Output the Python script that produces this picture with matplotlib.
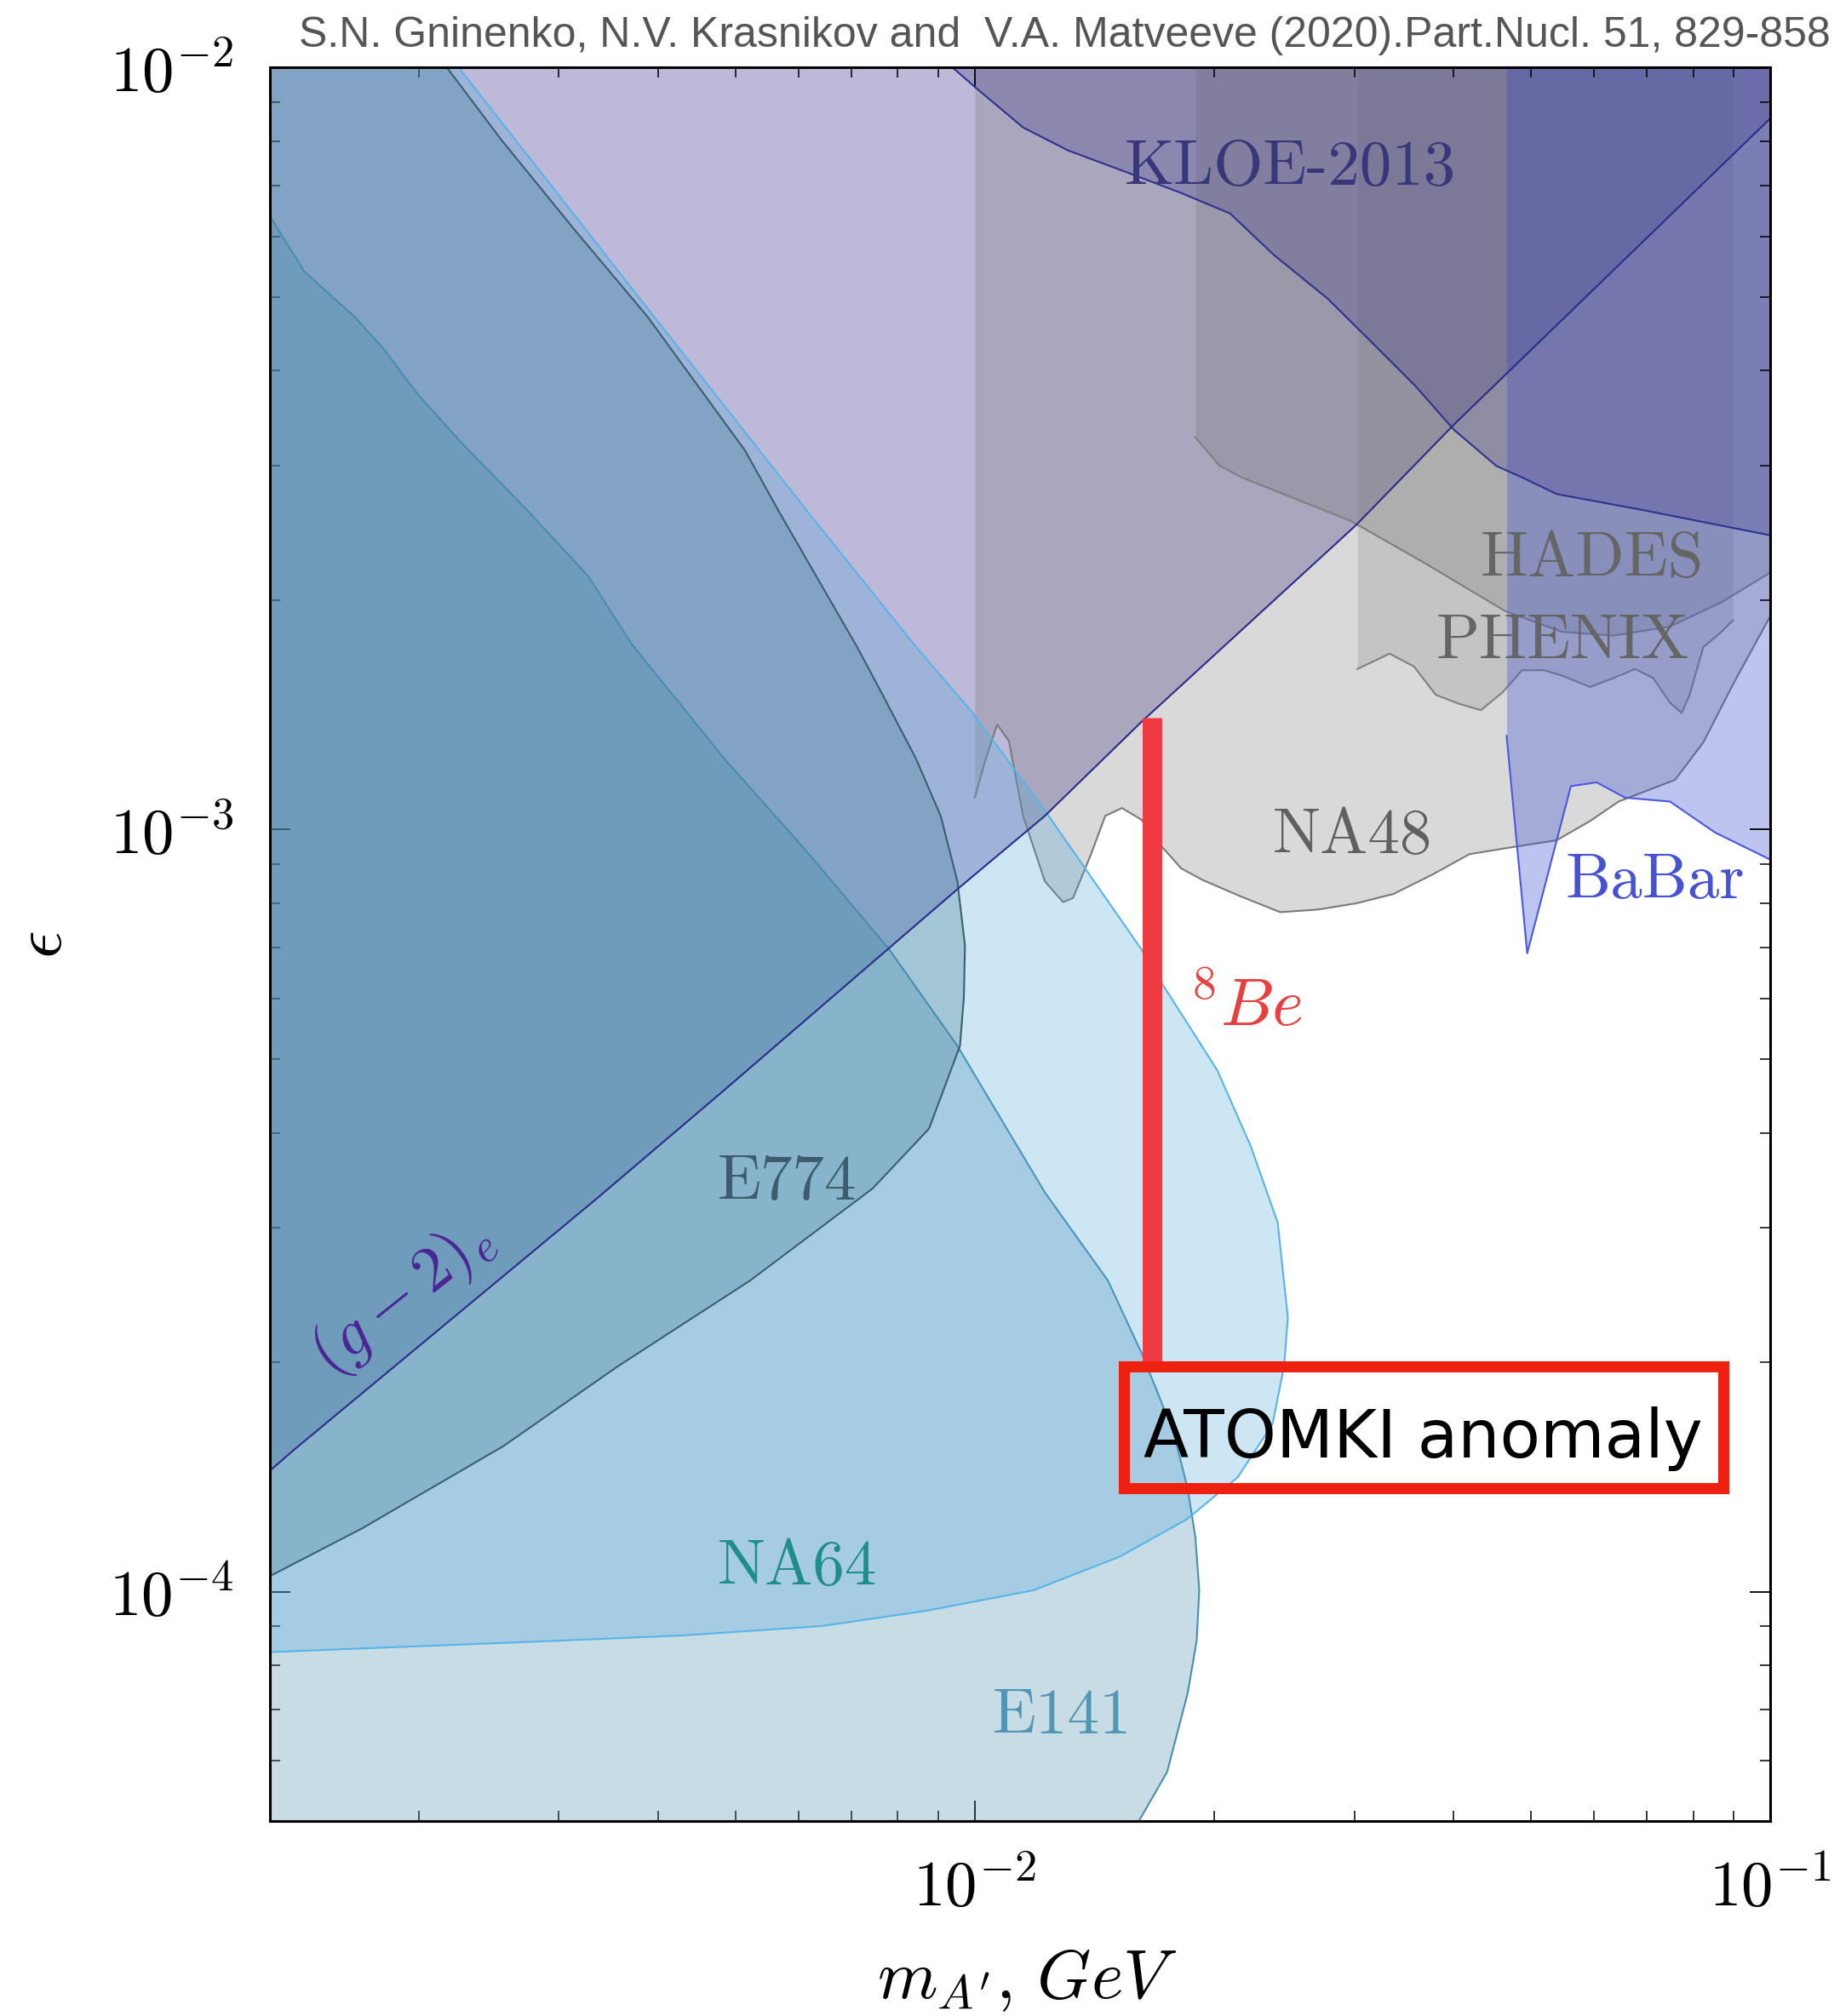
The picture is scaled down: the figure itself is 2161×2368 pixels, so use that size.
import matplotlib
matplotlib.use("Agg")
import matplotlib.pyplot as plt
from matplotlib.patches import Rectangle
from matplotlib.ticker import FixedLocator, FixedFormatter, LogLocator, NullFormatter

plt.rcParams['mathtext.fontset'] = 'cm'

# ---------------- axis ranges and ticks ----------------
m_lim = (1.3e-3, 0.1)          # dark photon mass, GeV
eps_lim = (5e-5, 1e-2)         # kinetic mixing
x_ticks = [1e-2, 1e-1]
x_tick_labels = [r'$10^{-2}$', r'$10^{-1}$']
y_ticks = [1e-4, 1e-3, 1e-2]
y_tick_labels = [r'$10^{-4}$', r'$10^{-3}$', r'$10^{-2}$']

# ---------------- exclusion boundaries (m in GeV, epsilon) ----------------
# (g-2)_e : excluded above the line
g2_m = [1.3e-3, 1.398e-3, 3.341e-3, 4.848e-3, 9.51e-3, 1.225e-2, 1.620e-2, 3.016e-2, 4.002e-2, 0.1]
g2_eps = [1.441e-4, 1.539e-4, 3.273e-4, 4.555e-4, 8.35e-4, 1.042e-3, 1.384e-3, 2.509e-3, 3.398e-3, 8.57e-3]

# NA48 : excluded above the line
na48_m = [1.0e-2, 1.032e-2, 1.067e-2, 1.104e-2, 1.150e-2, 1.225e-2, 1.291e-2, 1.329e-2, 1.400e-2,
          1.459e-2, 1.531e-2, 1.620e-2, 1.719e-2, 1.818e-2, 1.936e-2, 2.165e-2, 2.421e-2, 2.697e-2,
          3.016e-2, 3.360e-2, 3.756e-2, 4.184e-2, 4.679e-2, 5.389e-2, 5.937e-2, 6.446e-2, 7.592e-2,
          8.239e-2, 8.977e-2, 0.1]
na48_eps = [1.101e-3, 1.237e-3, 1.373e-3, 1.306e-3, 1.042e-3, 8.55e-4, 8.03e-4, 8.13e-4, 9.28e-4,
            1.042e-3, 1.067e-3, 1.030e-3, 9.49e-4, 8.89e-4, 8.58e-4, 8.16e-4, 7.79e-4, 7.85e-4,
            8.00e-4, 8.23e-4, 8.72e-4, 9.28e-4, 9.46e-4, 9.68e-4, 1.026e-3, 1.088e-3, 1.162e-3,
            1.301e-3, 1.550e-3, 1.905e-3]

# HADES : excluded above the line
hades_m = [1.894e-2, 2.032e-2, 2.165e-2, 2.466e-2, 2.972e-2, 3.687e-2, 4.644e-2, 5.470e-2,
           6.350e-2, 7.480e-2, 8.681e-2, 0.1]
hades_eps = [3.268e-3, 3.000e-3, 2.897e-3, 2.744e-3, 2.539e-3, 2.233e-3, 1.934e-3, 1.817e-3,
             1.796e-3, 1.846e-3, 1.987e-3, 2.173e-3]

# PHENIX : excluded above the line
phenix_m = [3.027e-2, 3.323e-2, 3.566e-2, 3.798e-2, 4.062e-2, 4.327e-2, 4.610e-2, 4.875e-2,
            5.193e-2, 5.470e-2, 5.937e-2, 6.350e-2, 6.764e-2, 7.125e-2, 7.480e-2, 7.734e-2,
            7.908e-2, 8.239e-2, 8.681e-2, 8.977e-2]
phenix_eps = [1.624e-3, 1.701e-3, 1.636e-3, 1.502e-3, 1.462e-3, 1.434e-3, 1.514e-3, 1.618e-3,
              1.618e-3, 1.592e-3, 1.538e-3, 1.580e-3, 1.624e-3, 1.580e-3, 1.467e-3, 1.422e-3,
              1.496e-3, 1.735e-3, 1.817e-3, 1.882e-3]

# BaBar : excluded above the line
babar_m = [4.662e-2, 4.948e-2, 5.615e-2, 6.050e-2, 6.567e-2, 7.480e-2, 8.521e-2, 0.1]
babar_eps = [1.327e-3, 6.88e-4, 1.140e-3, 1.153e-3, 1.101e-3, 1.088e-3, 9.91e-4, 9.13e-4]

# KLOE-2013 : excluded above the line
kloe_m = [9.37e-3, 1.002e-2, 1.150e-2, 1.310e-2, 1.554e-2, 1.818e-2, 2.094e-2, 2.376e-2, 2.778e-2,
          3.153e-2, 3.579e-2, 4.002e-2, 4.524e-2, 4.875e-2, 5.389e-2, 6.994e-2, 0.1]
kloe_eps = [1.0e-2, 9.41e-3, 8.34e-3, 7.78e-3, 7.28e-3, 6.84e-3, 6.43e-3, 5.675e-3, 4.97e-3,
            4.36e-3, 3.82e-3, 3.346e-3, 3.000e-3, 2.897e-3, 2.755e-3, 2.619e-3, 2.432e-3]

# E141 beam dump : contour from the left edge down to the bottom edge
e141_m = [1.3e-3, 1.435e-3, 1.659e-3, 1.801e-3, 1.991e-3, 2.261e-3, 2.722e-3, 3.268e-3, 3.708e-3,
          4.848e-3, 6.174e-3, 7.806e-3, 9.51e-3, 1.225e-2, 1.470e-2, 1.626e-2, 1.777e-2, 1.852e-2,
          1.894e-2, 1.915e-2, 1.901e-2, 1.852e-2, 1.745e-2, 1.608e-2]
e141_eps = [6.38e-3, 5.40e-3, 4.71e-3, 4.29e-3, 3.73e-3, 3.22e-3, 2.64e-3, 2.148e-3, 1.748e-3,
            1.237e-3, 9.31e-4, 6.96e-4, 5.20e-4, 3.34e-4, 2.56e-4, 2.04e-4, 1.62e-4, 1.365e-4,
            1.178e-4, 1.004e-4, 8.63e-5, 7.36e-5, 5.80e-5, 5.0e-5]

# NA64 : contour from the top edge round to the left edge
na64_m = [2.244e-3, 3.694e-3, 6.152e-3, 8.44e-3, 9.91e-3, 1.225e-2, 1.620e-2, 1.706e-2, 2.018e-2,
          2.223e-2, 2.403e-2, 2.475e-2, 2.448e-2, 2.367e-2, 2.141e-2, 1.845e-2, 1.520e-2, 1.185e-2,
          8.70e-3, 6.41e-3, 4.29e-3, 2.826e-3, 1.890e-3, 1.3e-3]
na64_eps = [1.0e-2, 5.15e-3, 2.619e-3, 1.735e-3, 1.428e-3, 1.059e-3, 6.96e-4, 6.36e-4, 4.83e-4,
            3.84e-4, 3.05e-4, 2.29e-4, 1.975e-4, 1.658e-4, 1.413e-4, 1.243e-4, 1.111e-4, 1.004e-4,
            9.44e-5, 9.01e-5, 8.76e-5, 8.60e-5, 8.46e-5, 8.33e-5]

# E774 beam dump : contour from the top edge round to the left edge
e774_m = [2.169e-3, 2.536e-3, 3.136e-3, 3.877e-3, 5.145e-3, 5.666e-3, 7.115e-3, 7.69e-3, 8.44e-3,
          9.06e-3, 9.51e-3, 9.72e-3, 9.69e-3, 9.58e-3, 8.76e-3, 7.44e-3, 5.22e-3, 3.558e-3,
          2.555e-3, 1.696e-3, 1.3e-3]
e774_eps = [1.0e-2, 8.05e-3, 6.13e-3, 4.71e-3, 3.14e-3, 2.619e-3, 1.735e-3, 1.490e-3, 1.237e-3,
            1.042e-3, 8.55e-4, 7.04e-4, 6.03e-4, 5.20e-4, 4.05e-4, 3.38e-4, 2.56e-4, 1.975e-4,
            1.552e-4, 1.210e-4, 1.048e-4]

# 8Be (ATOMKI) X17 band
be8_m = 0.0167
be8_eps = (2.0e-4, 1.4e-3)

# ---------------- figure ----------------
fig = plt.figure(figsize=(21.61, 23.68), dpi=100)
ax = fig.add_axes([0.1467, 0.0967, 0.8154, 0.8699])
ax.set_xscale('log')
ax.set_yscale('log')
ax.set_xlim(*m_lim)
ax.set_ylim(*eps_lim)

top = eps_lim[1]
lw = 1.5

# (g-2)_e
ax.fill_between(g2_m, g2_eps, top, color='#beb9d8', lw=0, zorder=1)
ax.plot(g2_m, g2_eps, color='#2c2c8c', lw=lw, zorder=1.9)

# NA48
ax.fill_between(na48_m, na48_eps, top, color='#767676', alpha=0.27, lw=0, zorder=1.1)
ax.plot(na48_m, na48_eps, color='#7a7a7a', lw=lw, zorder=1.15)

# HADES
ax.fill_between(hades_m, hades_eps, top, color='#767676', alpha=0.27, lw=0, zorder=1.2)
ax.plot(hades_m, hades_eps, color='#808080', lw=lw, zorder=1.25)

# PHENIX
ax.fill_between(phenix_m, phenix_eps, top, color='#767676', alpha=0.21, lw=0, zorder=1.3)
ax.plot(phenix_m, phenix_eps, color='#808080', lw=lw, zorder=1.35)

# BaBar
ax.fill_between(babar_m, babar_eps, top, color='#4556d4', alpha=0.35, lw=0, zorder=1.4)
ax.plot(babar_m, babar_eps, color='#4a58e0', lw=lw, zorder=1.45)

# KLOE-2013
ax.fill_between(kloe_m, kloe_eps, top, color='#40388c', alpha=0.28, lw=0, zorder=1.5)
ax.plot(kloe_m, kloe_eps, color='#2e3290', lw=lw, zorder=1.55)

# E141 (closed through the lower-left corner)
ax.fill(e141_m + [m_lim[0]], e141_eps + [eps_lim[0]], color='#4b8eac', alpha=0.30, lw=0, zorder=1.6)
ax.plot(e141_m, e141_eps, color='#4a8db2', lw=lw, zorder=1.65)

# NA64 (closed through the upper-left corner)
ax.fill(na64_m + [m_lim[0]], na64_eps + [eps_lim[1]], color='#4ca6db', alpha=0.28, lw=0, zorder=1.7)
ax.plot(na64_m, na64_eps, color='#56b4e9', lw=lw, zorder=1.75)

# E774 (closed through the upper-left corner)
ax.fill(e774_m + [m_lim[0]], e774_eps + [eps_lim[1]], color='#427e93', alpha=0.30, lw=0, zorder=1.8)
ax.plot(e774_m, e774_eps, color='#3a5f73', lw=lw, zorder=1.85)

# 8Be band
ax.vlines(be8_m, be8_eps[0], be8_eps[1], color='#ee3a40', lw=16.5, zorder=3)

# ---------------- region labels ----------------
cm = dict(family='cmr10', fontsize=54, transform=ax.transAxes, ha='center', va='baseline', zorder=4)
ax.text(0.6799, 0.9330, 'KLOE-2013', color='#37377a', **cm)
ax.text(0.8814, 0.7097, 'HADES', color='#656565', **cm)
ax.text(0.8615, 0.6626, 'PHENIX', color='#656565', **cm)
ax.text(0.7213, 0.5519, 'NA48', color='#606060', **cm)
ax.text(0.9234, 0.5262, 'BaBar', color='#4652d2', **cm)
ax.text(0.3445, 0.3544, 'E774', color='#3d5d6e', **cm)
ax.text(0.3513, 0.1350, 'NA64', color='#1f8c8e', **cm)
ax.text(0.5278, 0.0500, 'E141', color='#5196b6', **cm)
ax.text(0.0885, 0.2985, r'$(g-2)_e$', color='#4b2496', fontsize=55, rotation=38.7,
        rotation_mode='anchor', ha='center', va='center', transform=ax.transAxes, zorder=4)
ax.text(0.6130, 0.4534, r'$^8Be$', color='#e8403f', fontsize=57, ha='left', va='baseline',
        transform=ax.transAxes, zorder=4)

# ATOMKI annotation box
ax.add_patch(Rectangle((0.5690, 0.1900), 0.3995, 0.0690, transform=ax.transAxes, fill=False,
                       edgecolor='#ee2010', lw=9.4, zorder=5, clip_on=False))
ax.text(0.7684, 0.2073, 'ATOMKI anomaly', family='DejaVu Sans', fontsize=56, color='black',
        ha='center', va='baseline', transform=ax.transAxes, zorder=5)

# ---------------- axes styling ----------------
ax.xaxis.set_major_locator(FixedLocator(x_ticks))
ax.xaxis.set_major_formatter(FixedFormatter(x_tick_labels))
ax.yaxis.set_major_locator(FixedLocator(y_ticks))
ax.yaxis.set_major_formatter(FixedFormatter(y_tick_labels))
ax.xaxis.set_minor_locator(LogLocator(base=10, subs=range(2, 10), numticks=20))
ax.yaxis.set_minor_locator(LogLocator(base=10, subs=range(2, 10), numticks=20))
ax.xaxis.set_minor_formatter(NullFormatter())
ax.yaxis.set_minor_formatter(NullFormatter())
ax.tick_params(which='both', direction='in', top=True, right=True, labelsize=54, pad=31)
ax.tick_params(which='major', length=17, width=1.3)
ax.tick_params(which='minor', length=8.5, width=1.1)
for s in ax.spines.values():
    s.set_linewidth(2.2)
    s.set_zorder(6)

fig.text(0.558, 0.0089, r"$m_{A'},\,GeV$", fontsize=58, ha='center', va='baseline')
fig.text(0.0231, 0.5313, r'$\epsilon$', fontsize=58, rotation=90, ha='center', va='center')
fig.text(0.9949, 0.9768, 'S.N. Gninenko, N.V. Krasnikov and  V.A. Matveeve (2020).Part.Nucl. 51, 829-858',
         family='Liberation Sans', fontsize=36, color='#555555', ha='right', va='baseline')

fig.savefig('out.png', dpi=100)
